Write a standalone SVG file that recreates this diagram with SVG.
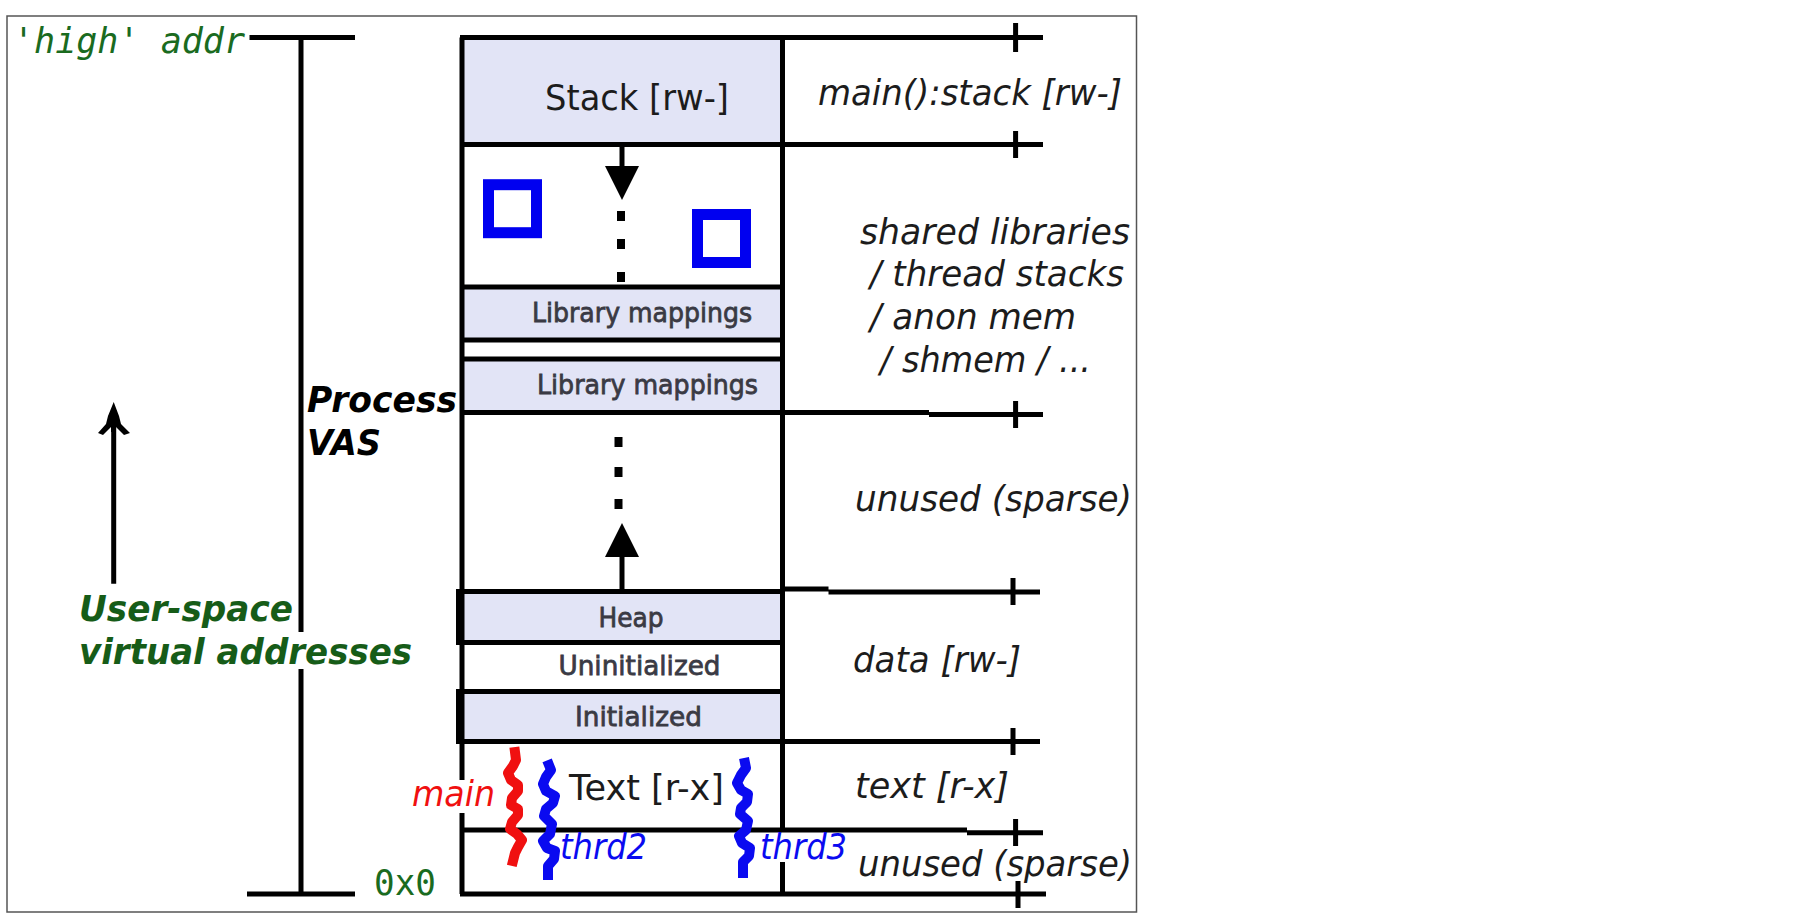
<svg xmlns="http://www.w3.org/2000/svg" width="1817" height="914" viewBox="0 0 1817 914">
<style>
.ln{stroke:#000;stroke-width:5;fill:none}
.box{fill:#e2e4f6;stroke:none}
.sq{fill:none;stroke:#0000f0;stroke-width:11}
.dot{fill:#000}
.sq2{fill:none;stroke-width:10;stroke-linejoin:round;stroke-linecap:square}
text{font-family:"DejaVu Sans","Liberation Sans",sans-serif;fill:#1c1c1c}
.big{font-size:35px}
.sm{font-size:27px;font-weight:500;fill:#3a3a44;stroke:#3a3a44;stroke-width:.8}
.it{font-size:36px;font-style:italic}
.bi{font-size:35px;font-style:italic;font-weight:bold;fill:#000}
.mono{font-family:"DejaVu Sans Mono","Liberation Mono",monospace;font-size:35px;fill:#1a6b1f}
.gr{fill:#165c18}
.blue{fill:#0a0af0}
.red{fill:#f01010}
</style>
<defs>
<marker id="head" markerUnits="userSpaceOnUse" markerWidth="36" markerHeight="36" refX="0" refY="18" orient="auto"><path d="M0 1L34 18L0 35Z" fill="#000"/></marker>
</defs>
<rect width="1817" height="914" fill="#fff"/>
<rect x="7" y="16" width="1129.500" height="896" fill="#fff" stroke="#555" stroke-width="1.500"/>

<g id="stack"><rect class="box" x="462" y="37" width="320" height="107"/><text class="big" x="545" y="110" textLength="184" lengthAdjust="spacingAndGlyphs">Stack [rw-]</text></g>
<g id="library1"><rect class="box" x="462" y="287" width="320" height="53"/><text class="sm" x="532" y="322" textLength="220" lengthAdjust="spacingAndGlyphs">Library mappings</text></g>
<g id="library2"><rect class="box" x="462" y="359" width="320" height="53"/><text class="sm" x="537" y="394" textLength="221" lengthAdjust="spacingAndGlyphs">Library mappings</text></g>
<g id="heap"><rect class="box" x="460" y="591" width="322" height="51"/><text class="sm" x="598.500" y="627" textLength="65" lengthAdjust="spacingAndGlyphs">Heap</text></g>
<g id="uninitialized"><text class="sm" x="558.500" y="675" textLength="162" lengthAdjust="spacingAndGlyphs">Uninitialized</text></g>
<g id="initialized"><rect class="box" x="460" y="691" width="322" height="50"/><text class="sm" x="575" y="726" textLength="127" lengthAdjust="spacingAndGlyphs">Initialized</text></g>
<g id="text-seg"><text class="big" x="569" y="800" textLength="155" lengthAdjust="spacingAndGlyphs">Text [r-x]</text></g>

<g id="connectors">
<path class="ln" d="M249.500 37.500H355M301 37.500V632M301 669V894M247 894H355"/>
<path class="ln" d="M462 37.500V780M462 813V894"/>
<path class="ln" d="M458.500 591V642M458.500 691V741"/>
<path class="ln" d="M782.500 37.500V828M782.500 862V894"/>
<path class="ln" d="M460 37.500H1043M460 144.500H1043M460 287H782M460 340H782M460 359H782M460 412.500H929M929 414.500H1043"/>
<path class="ln" d="M456 591.500H782M782 589H828.500M828.500 592H1040M456 642.500H782M456 691.500H782M456 741.500H1040"/>
<path class="ln" d="M462 830H967M967 832.700H1043M460 894H1046"/>
<path class="ln" d="M1015.600 23V52M1015.600 131V158M1015.600 401V428M1013 578V605M1013 728V755M1015.600 819V846M1018 881V908"/>
<path class="ln" d="M622 144V166" marker-end="url(#head)"/>
<path class="ln" d="M622 591V557" marker-end="url(#head)"/>
<path class="ln" d="M113.700 583.700V410"/>
<path d="M113.700 402L119 416L121 424L130 433L124 435L116 427V432H111V427L103 435L98 433L106 424L108 416Z" fill="#000"/>
<path class="dot" d="M617 211h8v10h-8zM617 239h8v10h-8zM617 272h8v10h-8zM614.500 437h8v10h-8zM614.500 467h8v10h-8zM614.500 499h8v10h-8z"/>
</g>

<g id="mapping1"><rect class="sq" x="488.500" y="184.700" width="48" height="48"/></g>
<g id="mapping2"><rect class="sq" x="697.500" y="214.500" width="48" height="48"/></g>

<g id="thread-main"><polyline class="sq2" stroke="#f01010" points="515,752 516,760 513,766 508,773 511,780 518,785 518,791 512,798 511,805 518,809 518,815 512,822 510,829 517,834 522,840 518,847 515,853 513,861"/><text class="it red" x="412" y="806" textLength="83" lengthAdjust="spacingAndGlyphs">main</text></g>
<g id="thread2"><polyline class="sq2" stroke="#0a0af0" points="549,765 551,770 546,777 543,784 546,791 555,796 553,803 546,809 544,816 552,824 550,834 543,841 547,848 555,851 554,859 548,866 548,875"/><text class="it blue" x="560" y="859" textLength="87" lengthAdjust="spacingAndGlyphs">thrd2</text></g>
<g id="thread3"><polyline class="sq2" stroke="#0a0af0" points="745,763 746,768 741,775 737,783 741,790 748,794 747,802 741,808 740,814 748,821 746,830 739,836 742,843 750,848 749,856 743,862 743,873"/><text class="it blue" x="760" y="859" textLength="87" lengthAdjust="spacingAndGlyphs">thrd3</text></g>

<g id="label-high"><text class="mono" x="13" y="53" font-style="italic" textLength="232" lengthAdjust="spacingAndGlyphs">'high' addr</text></g>
<g id="label-zero"><text class="mono" x="374" y="895" textLength="62" lengthAdjust="spacingAndGlyphs">0x0</text></g>
<g id="label-vas"><text class="bi" x="307" y="412" textLength="150" lengthAdjust="spacingAndGlyphs">Process</text><text class="bi" x="307" y="455" textLength="74" lengthAdjust="spacingAndGlyphs">VAS</text></g>
<g id="label-user"><text class="bi gr" x="79" y="621" textLength="214" lengthAdjust="spacingAndGlyphs">User-space</text><text class="bi gr" x="79" y="664" textLength="333" lengthAdjust="spacingAndGlyphs">virtual addresses</text></g>
<g id="label-main-stack"><text class="it" x="818" y="105" textLength="304" lengthAdjust="spacingAndGlyphs">main():stack [rw-]</text></g>
<g id="label-shared"><text class="it" x="860" y="244" textLength="270" lengthAdjust="spacingAndGlyphs">shared libraries</text><text class="it" x="870" y="286" textLength="254" lengthAdjust="spacingAndGlyphs">/ thread stacks</text><text class="it" x="870" y="329" textLength="206" lengthAdjust="spacingAndGlyphs">/ anon mem</text><text class="it" x="880" y="372" textLength="211" lengthAdjust="spacingAndGlyphs">/ shmem / ...</text></g>
<g id="label-unused1"><text class="it" x="855" y="511" textLength="277" lengthAdjust="spacingAndGlyphs">unused (sparse)</text></g>
<g id="label-data"><text class="it" x="853" y="672" textLength="168" lengthAdjust="spacingAndGlyphs">data [rw-]</text></g>
<g id="label-text"><text class="it" x="855" y="798" textLength="154" lengthAdjust="spacingAndGlyphs">text [r-x]</text></g>
<g id="label-unused2"><text class="it" x="858" y="876" textLength="274" lengthAdjust="spacingAndGlyphs">unused (sparse)</text></g>
</svg>
